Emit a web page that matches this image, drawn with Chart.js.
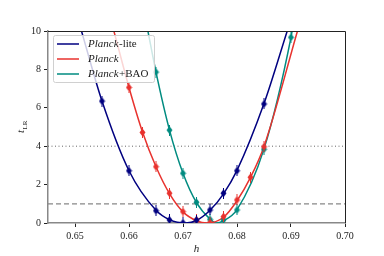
<!DOCTYPE html>
<html>
<head>
<meta charset="utf-8">
<script src="https://cdn.jsdelivr.net/npm/chart.js@4.4.1/dist/chart.umd.min.js"></script>
<style>
  html, body { margin: 0; padding: 0; background: #fff; }
</style>
</head>
<body>
<canvas id="chart" width="384" height="256"></canvas>
<script>
// ── data ────────────────────────────────────────────────────────────────────
const hLite   = [0.655, 0.660, 0.665, 0.6675, 0.670, 0.6725, 0.675, 0.6775, 0.680, 0.685];
const tLite   = [6.35, 2.72, 0.64, 0.16, 0.01, 0.15, 0.68, 1.55, 2.72, 6.20];
const hPlanck = [0.660, 0.6625, 0.665, 0.6675, 0.670, 0.6725, 0.675, 0.6775, 0.680, 0.6825, 0.685];
const tPlanck = [7.06, 4.72, 2.93, 1.55, 0.59, 0.16, 0.02, 0.33, 1.20, 2.38, 3.97];
const hBao    = [0.665, 0.6675, 0.670, 0.6725, 0.675, 0.6775, 0.680, 0.685, 0.690];
const tBao    = [7.86, 4.84, 2.59, 1.08, 0.19, 0.16, 0.68, 3.84, 9.67];

// fitted curves (sampled from the figure, incl. where they leave the frame)
const curveHLite   = [0.6512, 0.655, 0.660, 0.665, 0.6675, 0.6705, 0.6725, 0.675, 0.6775, 0.680, 0.685, 0.6893];
const curveTLite   = [10, 6.35, 2.72, 0.66, 0.17, 0.0, 0.13, 0.66, 1.52, 2.74, 6.22, 10];
const curveHPlanck = [0.6572, 0.660, 0.6625, 0.665, 0.6675, 0.670, 0.6725, 0.6745, 0.6775, 0.680, 0.6825, 0.685, 0.6912];
const curveTPlanck = [10, 7.06, 4.74, 2.93, 1.53, 0.58, 0.12, 0.0, 0.30, 1.16, 2.38, 3.99, 10];
const curveHBao    = [0.6635, 0.665, 0.6675, 0.670, 0.6725, 0.675, 0.6762, 0.6775, 0.680, 0.685, 0.690, 0.6902];
const curveTBao    = [10, 7.86, 4.84, 2.59, 1.06, 0.21, 0.0, 0.12, 0.70, 3.86, 9.67, 10];

const refLevels = [4, 1];            // dotted, dashed
const xTicks = [0.65, 0.66, 0.67, 0.68, 0.69, 0.70];
const yTicks = [0, 2, 4, 6, 8, 10];

const NAVY = '#000080', RED = '#e8322e', TEAL = '#008b80';
const SERIF = '"Liberation Serif", "DejaVu Serif", serif';

const pts = (xs, ys) => xs.map((x, i) => ({ x, y: ys[i] }));

// thin diamond with a short error bar
function marker(color) {
  const c = document.createElement('canvas');
  c.width = 7; c.height = 11;
  const g = c.getContext('2d');
  g.fillStyle = color; g.strokeStyle = color; g.lineWidth = 1;
  g.beginPath();
  g.moveTo(3.5, 1.5); g.lineTo(6.5, 5.5); g.lineTo(3.5, 9.5); g.lineTo(0.5, 5.5);
  g.closePath(); g.fill();
  g.beginPath(); g.moveTo(3.5, 0); g.lineTo(3.5, 11); g.stroke();
  return c;
}

function curve(xs, ys, color) {
  return { data: pts(xs, ys), showLine: true, borderColor: color, borderWidth: 1.5,
           pointRadius: 0, cubicInterpolationMode: 'monotone', order: 2 };
}
function markers(xs, ys, color) {
  return { data: pts(xs, ys), showLine: false, pointStyle: marker(color),
           pointRadius: 4, order: 1 };
}
function refLine(y, dash, color, width) {
  return { data: [{ x: 0.645, y }, { x: 0.70, y }], showLine: true, pointRadius: 0,
           borderColor: color, borderWidth: width, borderDash: dash, order: 3 };
}

// ── extras: top/right spines, axis titles, legend with italic "Planck" ─────
const extras = {
  id: 'extras',
  afterDraw(chart) {
    const { ctx, chartArea: a } = chart;
    ctx.save();
    ctx.strokeStyle = '#222'; ctx.lineWidth = 1;
    ctx.beginPath();
    ctx.moveTo(a.left, a.top + 0.5); ctx.lineTo(a.right + 0.5, a.top + 0.5);
    ctx.lineTo(a.right + 0.5, a.bottom);
    ctx.stroke();

    // x title
    ctx.fillStyle = '#222';
    ctx.font = 'italic 11px ' + SERIF;
    ctx.textAlign = 'center'; ctx.textBaseline = 'alphabetic';
    ctx.fillText('h', (a.left + a.right) / 2, 252);

    // y title t_LR
    ctx.translate(24, (a.top + a.bottom) / 2);
    ctx.rotate(-Math.PI / 2);
    ctx.textAlign = 'left';
    ctx.font = 'italic 11px ' + SERIF;
    const tw = ctx.measureText('t').width;
    ctx.font = '7px ' + SERIF;
    const sw = ctx.measureText('LR').width;
    const x0 = -(tw + sw) / 2;
    ctx.font = 'italic 11px ' + SERIF;
    ctx.fillText('t', x0, 0);
    ctx.font = '7px ' + SERIF;
    ctx.fillText('LR', x0 + tw + 0.5, 2.5);
    ctx.restore();

    // legend
    const entries = [
      { color: NAVY, tail: '-lite' },
      { color: RED,  tail: '' },
      { color: TEAL, tail: '+BAO' },
    ];
    ctx.save();
    const bx = 53, by = 35, bw = 101, bh = 47;
    ctx.fillStyle = 'rgba(255,255,255,0.8)';
    ctx.strokeStyle = '#d0d0d0'; ctx.lineWidth = 1;
    ctx.beginPath();
    ctx.roundRect(bx + 0.5, by + 0.5, bw, bh, 2);
    ctx.fill(); ctx.stroke();
    ctx.textBaseline = 'middle';
    entries.forEach((e, i) => {
      const y = 44 + i * 15;
      ctx.strokeStyle = e.color; ctx.lineWidth = 1.5;
      ctx.beginPath(); ctx.moveTo(57, y); ctx.lineTo(79, y); ctx.stroke();
      ctx.fillStyle = '#222';
      ctx.font = 'italic 11px ' + SERIF;
      ctx.fillText('Planck', 88, y);
      const w = ctx.measureText('Planck').width;
      ctx.font = '11px ' + SERIF;
      if (e.tail) ctx.fillText(e.tail, 88 + w + 0.5, y);
    });
    ctx.restore();
  }
};

new Chart(document.getElementById('chart'), {
  type: 'scatter',
  data: {
    datasets: [
      refLine(refLevels[0], [1, 2.5], '#666', 1),
      refLine(refLevels[1], [5, 3], '#888', 1.3),
      curve(curveHLite, curveTLite, NAVY),
      curve(curveHPlanck, curveTPlanck, RED),
      curve(curveHBao, curveTBao, TEAL),
      markers(hLite, tLite, NAVY),
      markers(hPlanck, tPlanck, RED),
      markers(hBao, tBao, TEAL),
    ]
  },
  options: {
    responsive: false,
    animation: false,
    devicePixelRatio: 1,
    layout: { padding: { top: 31, right: 39, left: 0, bottom: 0 } },
    plugins: { legend: { display: false }, tooltip: { enabled: false } },
    scales: {
      x: {
        type: 'linear', min: 0.645, max: 0.70,
        afterBuildTicks: s => { s.ticks = xTicks.map(v => ({ value: v })); },
        afterFit: s => { s.height = 33; },
        grid: { drawOnChartArea: false, drawTicks: true, tickLength: 4, color: '#222' },
        border: { color: '#888', width: 1.5 },
        ticks: { color: '#222', padding: 3, maxRotation: 0,
                 font: { family: SERIF, size: 10 }, callback: v => v.toFixed(2) }
      },
      y: {
        type: 'linear', min: 0, max: 10,
        afterBuildTicks: s => { s.ticks = yTicks.map(v => ({ value: v })); },
        afterFit: s => { s.width = 48; },
        grid: { drawOnChartArea: false, drawTicks: true, tickLength: 4, color: '#222' },
        border: { color: '#888', width: 1.5 },
        ticks: { color: '#222', padding: 3, font: { family: SERIF, size: 10 },
                 callback: v => String(v) }
      }
    }
  },
  plugins: [extras]
});
</script>
</body>
</html>
